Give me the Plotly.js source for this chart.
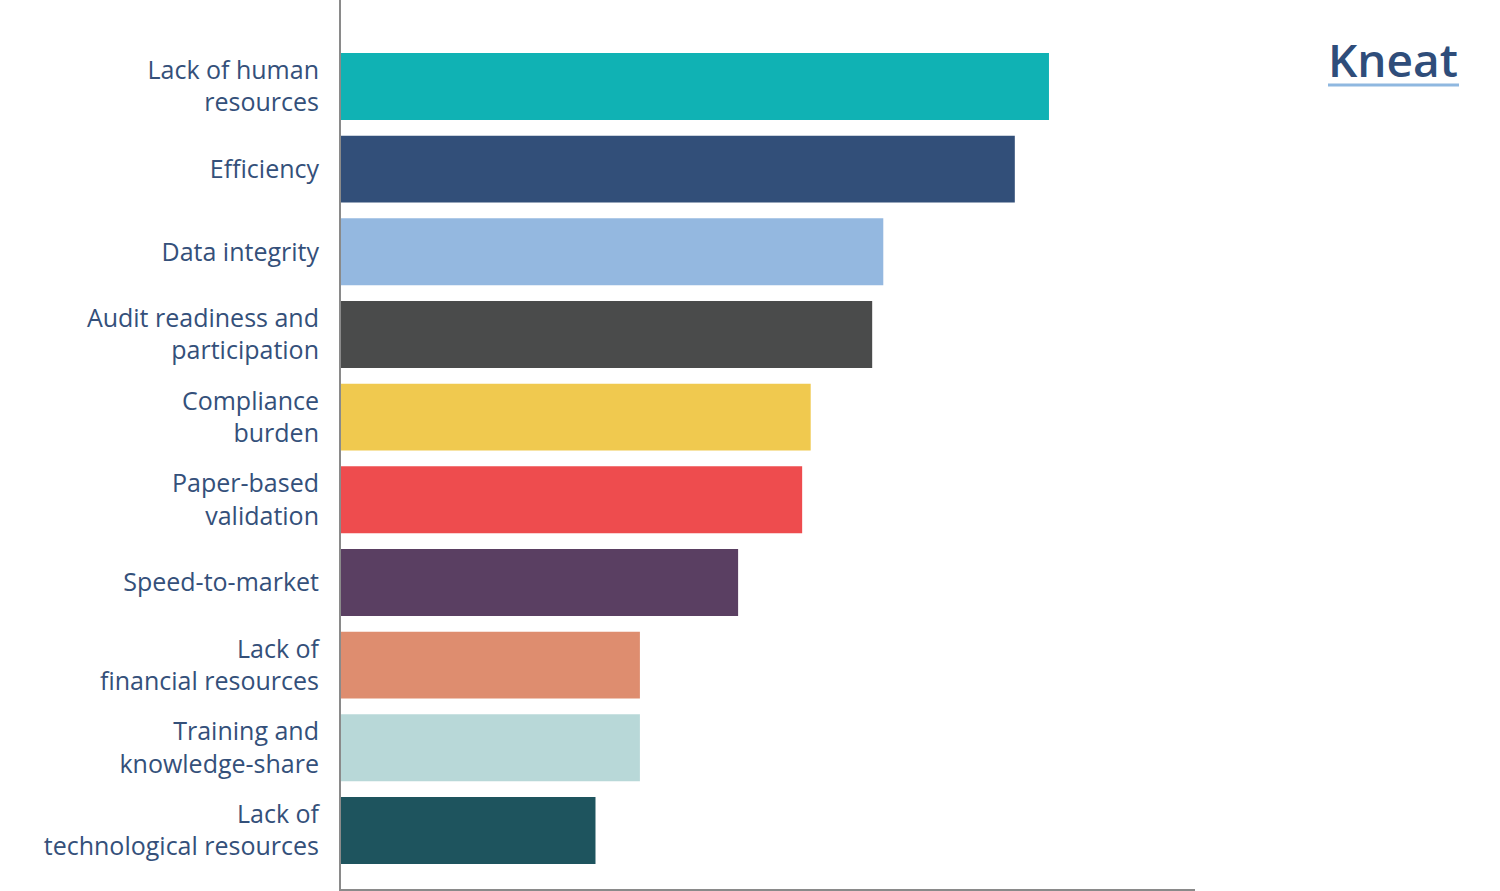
<!DOCTYPE html>
<html>
<head>
<meta charset="utf-8">
<script src="https://cdn.plot.ly/plotly-3.0.1.min.js"></script>
<style>html,body{margin:0;padding:0;background:#fff;}#chart{width:1500px;height:891px;}</style>
</head>
<body>
<div id="chart"></div>
<script>
const categories = [
  "Lack of human<br>resources",
  "Efficiency",
  "Data integrity",
  "Audit readiness and<br>participation",
  "Compliance<br>burden",
  "Paper-based<br>validation",
  "Speed-to-market",
  "Lack of<br>financial resources",
  "Training and<br>knowledge-share",
  "Lack of<br>technological resources"
];
const values = [82.9, 78.9, 63.5, 62.2, 55.0, 54.0, 46.5, 35.0, 35.0, 29.8];
const colors = ["#10b2b4", "#324f79", "#94b8e0", "#4a4b4b", "#f0c94f", "#ee4c4e", "#5a3f62", "#de8d6f", "#b8d8d8", "#1e545e"];

const trace = {
  type: "bar",
  orientation: "h",
  y: categories,
  x: values,
  marker: {color: colors, line: {width: 0}},
  width: 0.81,
  hoverinfo: "x+y"
};

const layout = {
  width: 1500,
  height: 891,
  margin: {l: 341, r: 305, t: 0, b: 2, pad: 0},
  paper_bgcolor: "#ffffff",
  plot_bgcolor: "#ffffff",
  showlegend: false,
  font: {family: "'Open Sans', sans-serif", color: "#34507a", size: 25},
  xaxis: {
    range: [0, 100],
    showgrid: false,
    zeroline: false,
    showticklabels: false,
    ticks: "",
    showline: true,
    linecolor: "#8a8a8a",
    linewidth: 2
  },
  yaxis: {
    type: "category",
    range: [9.708, -1.046],
    showgrid: false,
    zeroline: false,
    ticks: "",
    showline: true,
    linecolor: "#8a8a8a",
    linewidth: 2,
    ticklabelstandoff: 15,
    tickfont: {family: "'Open Sans', sans-serif", color: "#34507a", size: 25}
  },
  annotations: [{
    xref: "paper", yref: "paper",
    x: (1460 - 341) / 854, y: (891 - 2 - 59) / 889,
    xanchor: "right", yanchor: "middle",
    text: "Kneat",
    showarrow: false,
    font: {family: "'Open Sans', sans-serif", size: 46, color: "#2f4d7a", weight: 600}
  }],
  shapes: [{
    type: "line", xref: "paper", yref: "paper",
    x0: (1328 - 341) / 854, x1: (1459 - 341) / 854,
    y0: (889 - 85) / 889, y1: (889 - 85) / 889,
    line: {color: "#8fb8e0", width: 3}
  }]
};

Plotly.newPlot("chart", [trace], layout, {displayModeBar: false, responsive: false});
</script>
</body>
</html>
